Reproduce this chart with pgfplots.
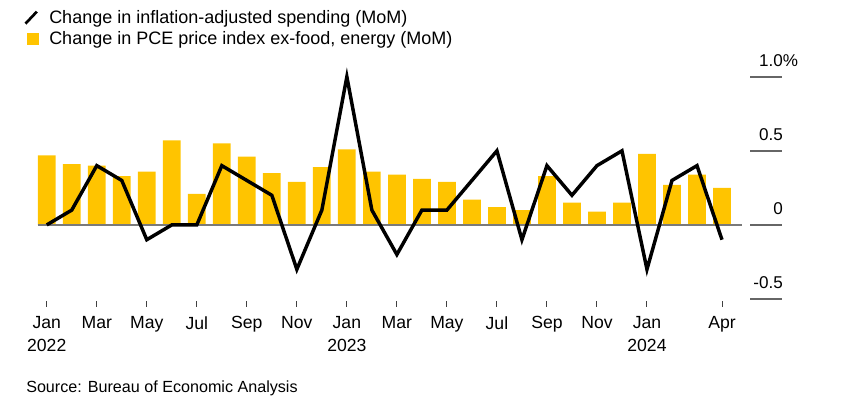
\documentclass[border=0pt]{standalone}
\usepackage{fontspec}
\setmainfont{Liberation Sans}
\usepackage{pgfplots}
\pgfplotsset{compat=1.18}
\definecolor{barc}{HTML}{FFC400}
\definecolor{zeroc}{HTML}{7A7A7A}

\begin{document}
\begin{tikzpicture}
% frame of the whole picture, 845 x 402 px at 0.75pt per px
\useasboundingbox (0,0) rectangle (633.75pt,-301.5pt);
\begin{axis}[
    at={(28.5pt,-224.25pt)}, anchor=south west,
    scale only axis, width=528pt, height=166.7pt,
    xmin=-0.35, xmax=27.8, ymin=-0.5, ymax=1.0,
    clip=false,
    axis x line*=bottom, axis y line*=right,
    x axis line style={draw=none}, y axis line style={draw=none},
    xtick={0,2,4,6,8,10,12,14,16,18,20,22,24,27},
    xticklabels={Jan\\2022,Mar,May,Jul,Sep,Nov,Jan\\2023,Mar,May,Jul,Sep,Nov,Jan\\2024,Apr},
    xticklabel style={align=center, font=\fontsize{13.2}{17}\selectfont, yshift=-5pt},
    major tick length=4.5pt, tick align=outside,
    xtick style={draw=black!75, line width=0.75pt, yshift=-1.2pt},
    ytick={-0.5,0,0.5,1},
    yticklabels={-0.5,0,0.5,1.0\rlap{\%}},
    ytick style={draw=none},
    yticklabel style={anchor=south east, inner sep=0pt, xshift=26.3pt, yshift=7.5pt,
        font=\fontsize{12.8}{15}\selectfont},
    reverse legend,
    legend cell align=left,
    legend style={at={(axis description cs:-0.02,1.31)}, anchor=north west,
        draw=none, fill=none, inner sep=0pt, row sep=1.5pt, column sep=6.5pt,
        font=\fontsize{13.5}{15}\selectfont, nodes={inner sep=1.5pt}},
]
\addplot[ybar, bar width=13.3pt, fill=barc, draw=none,
    legend image code/.code={\fill[barc] (0.8pt,-4.5pt) rectangle (9.8pt,4.5pt);}]
coordinates {
(0,0.47) (1,0.41) (2,0.40) (3,0.33) (4,0.36) (5,0.57) (6,0.21) (7,0.55)
(8,0.46) (9,0.35) (10,0.29) (11,0.39) (12,0.51) (13,0.36) (14,0.34) (15,0.31)
(16,0.29) (17,0.17) (18,0.12) (19,0.10) (20,0.33) (21,0.15) (22,0.09) (23,0.15)
(24,0.48) (25,0.27) (26,0.34) (27,0.25)
};
\addlegendentry{Change in PCE price index ex-food, energy (MoM)}

\addplot[zeroc, line width=1.5pt, forget plot] coordinates {(-0.35,0) (27.8,0)};

\addplot[black, line width=2.6pt, mark=none,
    legend image code/.code={\draw[black, line width=2pt] (0pt,-4.5pt) -- (8.5pt,4.5pt);}]
coordinates {
(0,0) (1,0.1) (2,0.4) (3,0.3) (4,-0.1) (5,0) (6,0) (7,0.4)
(8,0.3) (9,0.2) (10,-0.3) (11,0.1) (12,1.0) (13,0.1) (14,-0.2) (15,0.1)
(16,0.1) (17,0.3) (18,0.5) (19,-0.1) (20,0.4) (21,0.2) (22,0.4) (23,0.5)
(24,-0.3) (25,0.3) (26,0.4) (27,-0.1)
};
\addlegendentry{Change in inflation-adjusted spending (MoM)}

% short grid marks under the value labels on the right
\pgfplotsinvokeforeach{-0.5,0,0.5,1}{
  \draw[black!60, line width=1.5pt] (axis cs:28.13,#1) -- (axis cs:29.41,#1);
}
\end{axis}
\node[anchor=base west, inner sep=0pt, font=\fontsize{12.1}{14}\selectfont]
  at (19.5pt,-294pt) {Source: Bureau of Economic Analysis};
\end{tikzpicture}
\end{document}
